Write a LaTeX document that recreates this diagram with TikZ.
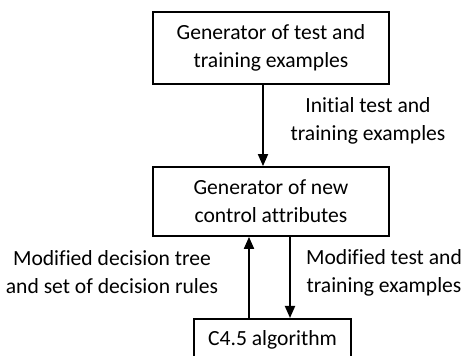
\documentclass[tikz,border=0pt]{standalone}
\usepackage{fontspec}
\setmainfont{Carlito}[Ligatures=NoCommon]
\usetikzlibrary{arrows.meta,calc}
\begin{document}
\begin{tikzpicture}[x=0.5pt,y=-0.5pt,
  font=\fontsize{10.8}{14}\selectfont,
  block/.style={draw,line width=0.9pt,align=center,inner sep=0pt},
  lbl/.style={align=center,inner sep=0pt},
  arr/.style={line width=0.9pt,-{Triangle[length=6pt,width=5pt]}}]
\useasboundingbox (0,0) rectangle (461,356);
\begin{scope}
\clip (0,0) rectangle (461,356);
% the three boxes of the loop
\node[block,minimum width=118pt,minimum height=36pt] (b1) at (271,48)
  {Generator of test and\\training examples};
\node[block,minimum width=118pt,minimum height=34.5pt] (b2) at (271,201.5)
  {Generator of new\\control attributes};
\node[block,minimum width=78.5pt,minimum height=22pt,anchor=north] (b3) at (272.5,318) {};
\node[lbl] (t3) at (272.5,340) {C4.5 algorithm};

% labels beside the arrows
\node[lbl] (l1) at (368,121) {Initial test and\\training examples};
\node[lbl] (l2) at (112,272.5) {Modified decision tree\\and set of decision rules};
\node[lbl] (l3) at (384,272.5) {Modified test and\\training examples};

% connectors
\draw[arr] ($(b1.south)+(-8,0)$) -- ($(b2.north)+(-8,0)$);
\draw[arr] ($(b3.north)+(-23.5,0)$) -- ($(b2.south)+(-22,0)$);
\draw[arr] ($(b2.south)+(19,0)$) -- ($(b3.north)+(17.5,0)$);
\end{scope}
\end{tikzpicture}
\end{document}
